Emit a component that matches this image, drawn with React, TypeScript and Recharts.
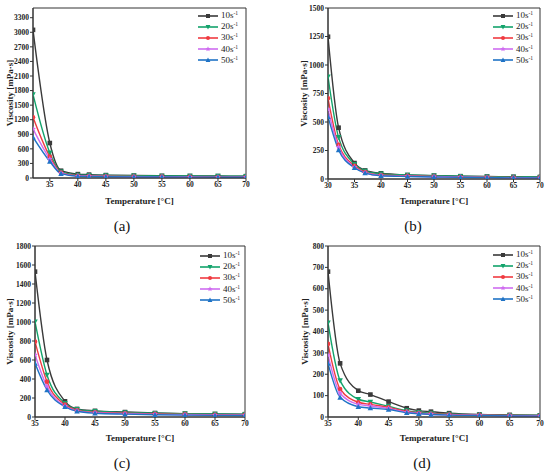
import React from "react";
import { LineChart, Line, XAxis, YAxis, ReferenceArea, Legend } from "recharts";

// temperatures (°C) per panel
const tempsA = [32, 35, 37, 40, 42, 45, 50, 55, 60, 65, 70];
const tempsB = [30, 32, 35, 37, 40, 45, 50, 55, 60, 65, 70];
const tempsC = [35, 37, 40, 42, 45, 50, 55, 60, 65, 70];
const tempsD = [35, 37, 40, 42, 45, 48, 50, 52, 55, 60, 65, 70];

// viscosity (mPa·s) for shear rates 10..50 s-1
const a10 = [3050, 720, 150, 80, 70, 60, 50, 45, 42, 40, 38];
const a20 = [1720, 520, 130, 60, 55, 50, 45, 42, 40, 38, 35];
const a30 = [1250, 440, 110, 45, 40, 35, 30, 28, 25, 22, 20];
const a40 = [1010, 390, 100, 40, 35, 30, 25, 22, 20, 18, 16];
const a50 = [840, 340, 90, 35, 30, 25, 22, 20, 18, 16, 14];

const b10 = [1248, 450, 140, 75, 50, 35, 30, 25, 22, 20, 18];
const b20 = [897, 365, 130, 70, 45, 35, 28, 24, 20, 18, 16];
const b30 = [708, 300, 115, 60, 35, 28, 22, 18, 15, 13, 12];
const b40 = [610, 280, 105, 55, 30, 24, 20, 16, 13, 11, 10];
const b50 = [546, 255, 99, 52, 28, 22, 18, 15, 12, 10, 9];

const c10 = [1530, 600, 165, 85, 65, 52, 42, 36, 32, 30];
const c20 = [1003, 442, 145, 80, 60, 48, 40, 35, 31, 28];
const c30 = [793, 372, 130, 70, 50, 40, 33, 28, 24, 22];
const c40 = [655, 320, 115, 65, 45, 35, 28, 24, 20, 18];
const c50 = [565, 284, 108, 60, 40, 30, 24, 20, 17, 15];

const d10 = [680, 251, 123, 105, 72, 41, 30, 25, 18, 12, 10, 8];
const d20 = [441, 170, 83, 70, 50, 30, 22, 18, 14, 10, 8, 7];
const d30 = [342, 131, 69, 59, 45, 26, 19, 15, 12, 9, 7, 6];
const d40 = [290, 111, 59, 52, 40, 23, 17, 13, 10, 8, 6, 5];
const d50 = [251, 92, 48, 42, 35, 20, 15, 12, 9, 7, 5, 4];

const series = [
  { key: "s10", rate: "10", color: "#3a3a3a", shape: "square" },
  { key: "s20", rate: "20", color: "#12a36b", shape: "down" },
  { key: "s30", rate: "30", color: "#f03a40", shape: "circle" },
  { key: "s40", rate: "40", color: "#cf6cf0", shape: "star" },
  { key: "s50", rate: "50", color: "#1f73c6", shape: "up" },
];

const FONT = "'Liberation Serif', 'Times New Roman', serif";

const buildRows = (temps: number[], cols: number[][]) =>
  temps.map((t, i) => ({
    t,
    s10: cols[0][i],
    s20: cols[1][i],
    s30: cols[2][i],
    s40: cols[3][i],
    s50: cols[4][i],
  }));

function Marker({ shape, cx, cy, color, r = 2.3 }: any) {
  if (shape === "square") {
    return <rect x={cx - r} y={cy - r} width={r * 2} height={r * 2} fill={color} />;
  }
  if (shape === "circle") {
    return <circle cx={cx} cy={cy} r={r} fill={color} />;
  }
  if (shape === "down") {
    return <polygon points={`${cx - r * 1.2},${cy - r} ${cx + r * 1.2},${cy - r} ${cx},${cy + r * 1.2}`} fill={color} />;
  }
  if (shape === "up") {
    return <polygon points={`${cx - r * 1.2},${cy + r} ${cx + r * 1.2},${cy + r} ${cx},${cy - r * 1.2}`} fill={color} />;
  }
  const pts: string[] = [];
  for (let k = 0; k < 10; k++) {
    const rad = k % 2 === 0 ? r * 1.4 : r * 0.6;
    const ang = -Math.PI / 2 + (k * Math.PI) / 5;
    pts.push(`${cx + rad * Math.cos(ang)},${cy + rad * Math.sin(ang)}`);
  }
  return <polygon points={pts.join(" ")} fill={color} />;
}

const makeDot = (shape: string, color: string) => (props: any) => {
  const { cx, cy, index } = props;
  if (cx == null || cy == null) return <g key={index} />;
  return <Marker key={index} shape={shape} cx={cx} cy={cy} color={color} />;
};

const legendContent = (props: any) => {
  const { payload } = props;
  return (
    <div style={{ fontFamily: FONT, fontSize: 9, color: "#222", lineHeight: "11.2px" }}>
      {(payload || []).map((p: any) => {
        const s = series.find((x) => x.key === p.dataKey) || series[0];
        return (
          <div key={s.key} style={{ display: "flex", alignItems: "center", height: 11.2 }}>
            <svg width={20} height={8} style={{ marginRight: 3 }}>
              <line x1={0} y1={4} x2={20} y2={4} stroke={s.color} strokeWidth={1.6} />
              <Marker shape={s.shape} cx={10} cy={4} color={s.color} r={2} />
            </svg>
            <span>
              {s.rate}s<sup style={{ fontSize: 5.5, verticalAlign: "top", lineHeight: "7px" }}>-1</sup>
            </span>
          </div>
        );
      })}
    </div>
  );
};

interface PanelProps {
  rows: any[];
  xDomain: [number, number];
  xTicks: number[];
  yMax: number;
  yTicks: number[];
  top: number;
  left: number;
  height: number;
  margin: { top: number; right: number; bottom: number; left: number };
  yWidth: number;
  yLabelX: number;
  xLabelOffset: number;
  legendPos: { left: number; top: number };
}

function Panel(p: PanelProps) {
  const tickStyle = { fontSize: 7.5, fontWeight: "bold", fill: "#222", fontFamily: FONT };
  return (
    <div style={{ position: "absolute", top: p.top, left: p.left }}>
      <LineChart width={275} height={p.height} data={p.rows} margin={p.margin}>
        <XAxis
          dataKey="t"
          type="number"
          domain={p.xDomain}
          ticks={p.xTicks}
          allowDataOverflow
          height={30}
          tick={tickStyle}
          tickSize={3}
          tickMargin={1}
          stroke="#333"
          label={{
            value: "Temperature [°C]",
            position: "insideBottom",
            offset: p.xLabelOffset,
            style: { fontSize: 9, fontWeight: "bold", fill: "#222", fontFamily: FONT },
          }}
        />
        <YAxis
          type="number"
          domain={[0, p.yMax]}
          ticks={p.yTicks}
          allowDataOverflow
          width={p.yWidth}
          tick={tickStyle}
          tickSize={3}
          tickMargin={1}
          stroke="#333"
          label={{
            value: "Viscosity [mPa·s]",
            angle: -90,
            position: "insideLeft",
            offset: p.yLabelX,
            style: { textAnchor: "middle", fontSize: 9, fontWeight: "bold", fill: "#222", fontFamily: FONT },
          }}
        />
        <ReferenceArea
          x1={p.xDomain[0]}
          x2={p.xDomain[1]}
          y1={0}
          y2={p.yMax}
          fill="none"
          stroke="#333"
          strokeWidth={1}
        />
        {series.map((s) => (
          <Line
            key={s.key}
            dataKey={s.key}
            name={`${s.rate}s-1`}
            type="monotone"
            stroke={s.color}
            strokeWidth={1.4}
            dot={makeDot(s.shape, s.color)}
            activeDot={false}
            isAnimationActive={false}
          />
        ))}
        <Legend
          content={legendContent}
          layout="horizontal"
          align="center"
          verticalAlign="middle"
          wrapperStyle={{ left: p.legendPos.left, top: p.legendPos.top, width: "auto", height: "auto" }}
        />
      </LineChart>
    </div>
  );
}

const captionStyle = (x: number, y: number): React.CSSProperties => ({
  position: "absolute",
  left: x,
  top: y,
  transform: "translate(-50%, -50%)",
  fontFamily: FONT,
  fontSize: 15,
  color: "#111",
});

export default function App() {
  return (
    <div style={{ position: "absolute", left: 0, top: 0, width: 550, height: 475, background: "#fff" }}>
      <Panel
        rows={buildRows(tempsA, [a10, a20, a30, a40, a50])}
        xDomain={[32, 70]}
        xTicks={[35, 40, 45, 50, 55, 60, 65, 70]}
        yMax={3500}
        yTicks={[0, 300, 600, 900, 1200, 1500, 1800, 2100, 2400, 2700, 3000, 3300]}
        top={0}
        left={0}
        height={235}
        margin={{ top: 8, right: 29, bottom: 27, left: 0 }}
        yWidth={33}
        yLabelX={10}
        xLabelOffset={4.5}
        legendPos={{ left: 198, top: 10 }}
      />
      <Panel
        rows={buildRows(tempsB, [b10, b20, b30, b40, b50])}
        xDomain={[30, 70]}
        xTicks={[30, 35, 40, 45, 50, 55, 60, 65, 70]}
        yMax={1500}
        yTicks={[0, 250, 500, 750, 1000, 1250, 1500]}
        top={0}
        left={275}
        height={235}
        margin={{ top: 8, right: 10, bottom: 26, left: 0 }}
        yWidth={53}
        yLabelX={29}
        xLabelOffset={5.5}
        legendPos={{ left: 218, top: 10 }}
      />
      <Panel
        rows={buildRows(tempsC, [c10, c20, c30, c40, c50])}
        xDomain={[35, 70]}
        xTicks={[35, 40, 45, 50, 55, 60, 65, 70]}
        yMax={1800}
        yTicks={[0, 200, 400, 600, 800, 1000, 1200, 1400, 1600, 1800]}
        top={235}
        left={0}
        height={240}
        margin={{ top: 11, right: 30, bottom: 28, left: 0 }}
        yWidth={35}
        yLabelX={10}
        xLabelOffset={6.5}
        legendPos={{ left: 200, top: 15 }}
      />
      <Panel
        rows={buildRows(tempsD, [d10, d20, d30, d40, d50])}
        xDomain={[35, 70]}
        xTicks={[35, 40, 45, 50, 55, 60, 65, 70]}
        yMax={800}
        yTicks={[0, 100, 200, 300, 400, 500, 600, 700, 800]}
        top={235}
        left={275}
        height={240}
        margin={{ top: 11, right: 10, bottom: 28, left: 0 }}
        yWidth={53}
        yLabelX={30}
        xLabelOffset={6.5}
        legendPos={{ left: 218, top: 14 }}
      />
      <div style={captionStyle(122, 226)}>(a)</div>
      <div style={captionStyle(413, 226)}>(b)</div>
      <div style={captionStyle(122, 463)}>(c)</div>
      <div style={captionStyle(422, 463)}>(d)</div>
    </div>
  );
}
